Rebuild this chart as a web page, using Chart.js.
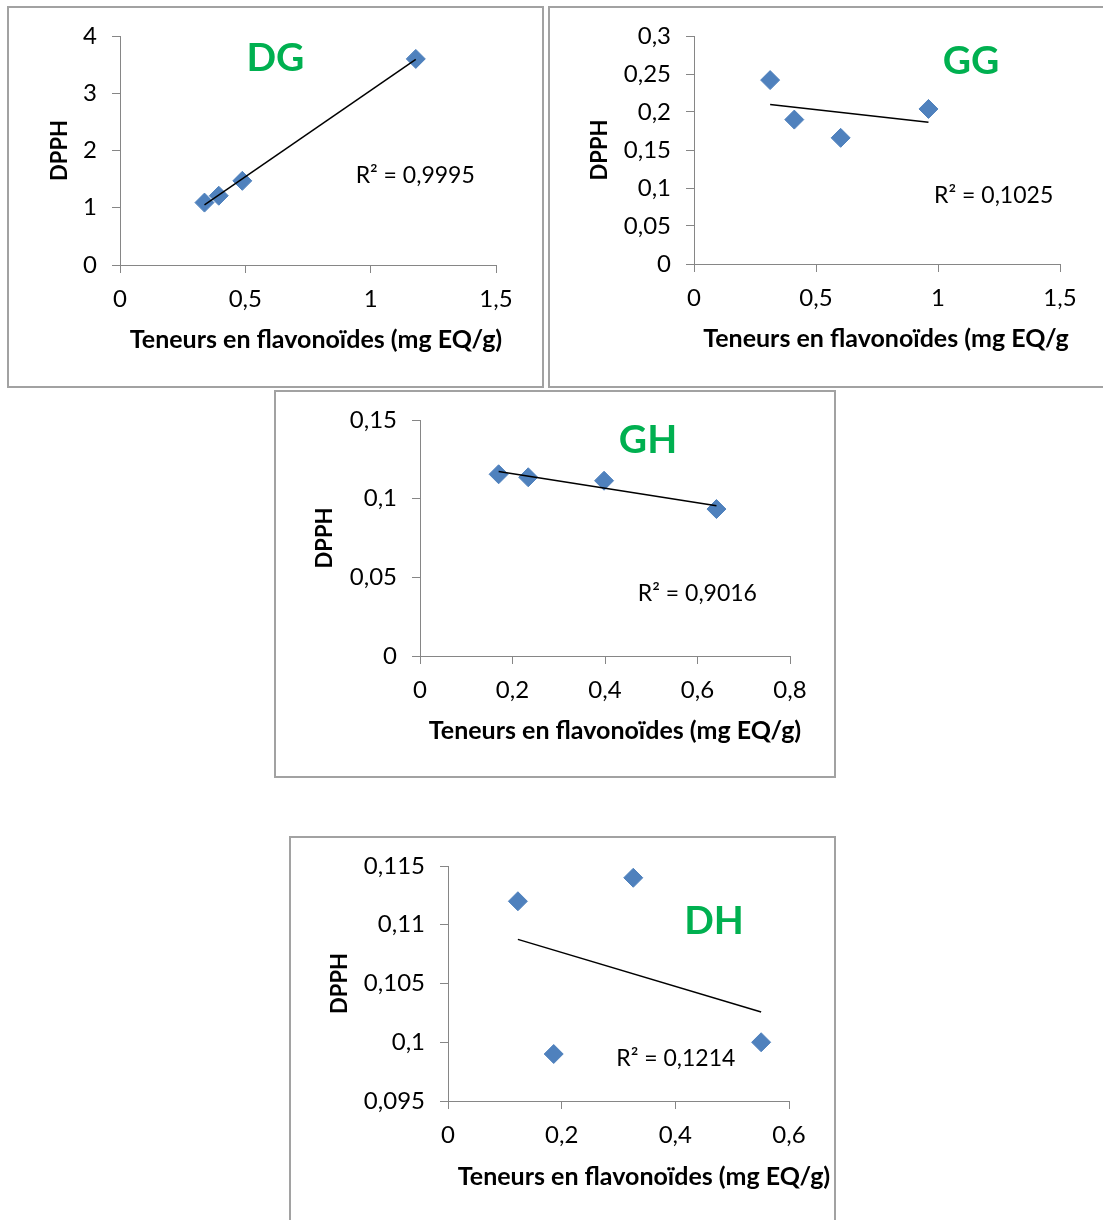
<!DOCTYPE html>
<html>
<head>
<meta charset="utf-8">
<script src="https://cdn.jsdelivr.net/npm/chart.js@4.4.1/dist/chart.umd.min.js"></script>
<style>
  html, body { margin: 0; padding: 0; background: #fff; }
  body { width: 1103px; height: 1220px; position: relative; overflow: hidden; }
  .box { position: absolute; box-sizing: border-box; border: 2px solid #a2a2a2; background: #fff; }
  .box canvas { position: absolute; left: -2px; top: -2px; }
</style>
</head>
<body>
<div class="box" id="boxDG"><canvas id="chartDG"></canvas></div>
<div class="box" id="boxGG"><canvas id="chartGG"></canvas></div>
<div class="box" id="boxGH"><canvas id="chartGH"></canvas></div>
<div class="box" id="boxDH"><canvas id="chartDH"></canvas></div>
<script>
// DPPH en fonction des teneurs en flavonoïdes (mg EQ/g)
const dgFlav = [0.337, 0.394, 0.488, 1.18];
const dgDpph = [1.09, 1.21, 1.47, 3.6];
const dgXTicks = [0, 0.5, 1, 1.5];
const dgYTicks = [0, 1, 2, 3, 4];

const ggFlav = [0.312, 0.411, 0.601, 0.961];
const ggDpph = [0.242, 0.19, 0.166, 0.204];
const ggXTicks = [0, 0.5, 1, 1.5];
const ggYTicks = [0, 0.05, 0.1, 0.15, 0.2, 0.25, 0.3];

const ghFlav = [0.17, 0.234, 0.398, 0.641];
const ghDpph = [0.1155, 0.1136, 0.1114, 0.0934];
const ghXTicks = [0, 0.2, 0.4, 0.6, 0.8];
const ghYTicks = [0, 0.05, 0.1, 0.15];

const dhFlav = [0.123, 0.186, 0.326, 0.551];
const dhDpph = [0.112, 0.099, 0.114, 0.1];
const dhXTicks = [0, 0.2, 0.4, 0.6];
const dhYTicks = [0.095, 0.1, 0.105, 0.11, 0.115];

const X_TITLE = "Teneurs en flavonoïdes (mg EQ/g)";
const FONT = "Lato";
const AXIS_GRAY = "#868686";
const MARKER_BLUE = "#4F81BD";
const LABEL_GREEN = "#00B050";

// droite de tendance linéaire (moindres carrés), du plus petit au plus grand x
function trendEnds(xs, ys) {
  const n = xs.length;
  const mx = xs.reduce((a, b) => a + b, 0) / n;
  const my = ys.reduce((a, b) => a + b, 0) / n;
  let sxy = 0, sxx = 0;
  xs.forEach((x, i) => {
    sxy += (x - mx) * (ys[i] - my);
    sxx += (x - mx) * (x - mx);
  });
  const slope = sxy / sxx;
  const icpt = my - slope * mx;
  const lo = Math.min(...xs), hi = Math.max(...xs);
  return [{ x: lo, y: icpt + slope * lo }, { x: hi, y: icpt + slope * hi }];
}

const fmt = (v) => String(+Number(v).toFixed(4)).replace(".", ",");

// textes : nom du groupe, R², titre de l'axe X
const textPlugin = {
  id: "dpphText",
  afterDraw(chart, args, o) {
    const { ctx, scales: { x, y } } = chart;
    ctx.save();
    ctx.textBaseline = "middle";

    ctx.font = `bold 39px ${FONT}`;
    ctx.fillStyle = LABEL_GREEN;
    ctx.textAlign = "center";
    ctx.fillText(o.name, x.getPixelForValue(o.nameAt[0]), y.getPixelForValue(o.nameAt[1]));

    ctx.font = `23px ${FONT}`;
    ctx.fillStyle = "#000";
    ctx.textAlign = "left";
    ctx.fillText(o.r2, x.getPixelForValue(o.r2At[0]), y.getPixelForValue(o.r2At[1]));

    ctx.font = `bold 25px ${FONT}`;
    ctx.textAlign = "center";
    ctx.fillText(o.xTitle, o.xTitlePos[0], o.xTitlePos[1]);
    ctx.restore();
  },
};

function drawDpphChart(c) {
  const box = document.getElementById(c.boxId);
  Object.assign(box.style, {
    left: c.box.x + "px", top: c.box.y + "px",
    width: c.box.w + "px", height: c.box.h + "px",
  });
  const canvas = document.getElementById(c.canvasId);
  canvas.width = c.box.w;
  canvas.height = c.box.h;

  // zone de tracé dans le repère du canvas
  const L = c.plot.l - c.box.x, R = c.plot.r - c.box.x;
  const T = c.plot.t - c.box.y, B = c.plot.b - c.box.y;
  const padLeft = c.yTitleX - c.box.x - 13.2;
  const yW = L - padLeft;
  const xH = 70;
  const padBottom = c.box.h - B - xH;

  const tickFont = { family: FONT, size: 24 };
  const axis = (ticks) => ({
    type: "linear",
    min: ticks[0],
    max: ticks[ticks.length - 1],
    afterBuildTicks: (s) => { s.ticks = ticks.map((value) => ({ value })); },
    grid: { drawOnChartArea: false, drawTicks: true, tickLength: 8, color: AXIS_GRAY, lineWidth: 1 },
    border: { display: true, color: AXIS_GRAY, width: 1 },
    ticks: { font: tickFont, color: "#000", padding: 15, autoSkip: false, maxRotation: 0, callback: fmt },
  });

  const xAxis = axis(c.xTicks);
  xAxis.ticks.padding = 12;
  xAxis.afterFit = (s) => { s.height = xH; };
  const yAxis = axis(c.yTicks);
  yAxis.afterFit = (s) => { s.width = yW; };
  yAxis.title = {
    display: true, text: "DPPH", color: "#000", padding: 0,
    font: { family: FONT, size: 22, weight: "bold" },
  };

  new Chart(canvas, {
    type: "scatter",
    data: {
      datasets: [
        {
          data: trendEnds(c.flav, c.dpph),
          showLine: true,
          borderColor: "#000",
          borderWidth: 1.5,
          pointRadius: 0,
          order: 0,
        },
        {
          data: c.flav.map((x, i) => ({ x, y: c.dpph[i] })),
          pointStyle: "rectRot",
          pointRadius: 9.5,
          backgroundColor: MARKER_BLUE,
          borderColor: MARKER_BLUE,
          borderWidth: 1,
          order: 1,
        },
      ],
    },
    options: {
      responsive: false,
      animation: false,
      events: [],
      layout: {
        autoPadding: false,
        padding: { left: padLeft, top: T, right: c.box.w - R, bottom: padBottom },
      },
      plugins: {
        legend: { display: false },
        tooltip: { enabled: false },
        dpphText: {
          name: c.name, nameAt: c.nameAt,
          r2: c.r2, r2At: c.r2At,
          xTitle: c.xTitle,
          xTitlePos: [c.xTitlePos[0] - c.box.x, c.xTitlePos[1] - c.box.y],
        },
      },
      scales: { x: xAxis, y: yAxis },
    },
    plugins: [textPlugin],
  });
}

drawDpphChart({
  boxId: "boxDG", canvasId: "chartDG",
  box: { x: 7, y: 6, w: 537, h: 382 },
  plot: { l: 120, r: 496, t: 36, b: 265 },
  flav: dgFlav, dpph: dgDpph, xTicks: dgXTicks, yTicks: dgYTicks,
  name: "DG", nameAt: [0.62, 3.6],
  r2: "R² = 0,9995", r2At: [0.94, 1.57],
  xTitle: X_TITLE, xTitlePos: [316, 340], yTitleX: 60,
});

drawDpphChart({
  boxId: "boxGG", canvasId: "chartGG",
  box: { x: 548, y: 6, w: 570, h: 382 },
  plot: { l: 694, r: 1060, t: 36, b: 264 },
  flav: ggFlav, dpph: ggDpph, xTicks: ggXTicks, yTicks: ggYTicks,
  name: "GG", nameAt: [1.135, 0.267],
  r2: "R² = 0,1025", r2At: [0.984, 0.0895],
  xTitle: "Teneurs en flavonoïdes (mg EQ/g", xTitlePos: [886, 339], yTitleX: 600,
});

drawDpphChart({
  boxId: "boxGH", canvasId: "chartGH",
  box: { x: 274, y: 390, w: 562, h: 388 },
  plot: { l: 420, r: 790, t: 420, b: 656 },
  flav: ghFlav, dpph: ghDpph, xTicks: ghXTicks, yTicks: ghYTicks,
  name: "GH", nameAt: [0.493, 0.137],
  r2: "R² = 0,9016", r2At: [0.471, 0.0394],
  xTitle: X_TITLE, xTitlePos: [615, 731], yTitleX: 325,
});

drawDpphChart({
  boxId: "boxDH", canvasId: "chartDH",
  box: { x: 289, y: 836, w: 547, h: 400 },
  plot: { l: 448, r: 789, t: 866, b: 1101 },
  flav: dhFlav, dpph: dhDpph, xTicks: dhXTicks, yTicks: dhYTicks,
  name: "DH", nameAt: [0.468, 0.1103],
  r2: "R² = 0,1214", r2At: [0.296, 0.09857],
  xTitle: X_TITLE, xTitlePos: [644, 1177], yTitleX: 340,
});
</script>
</body>
</html>
